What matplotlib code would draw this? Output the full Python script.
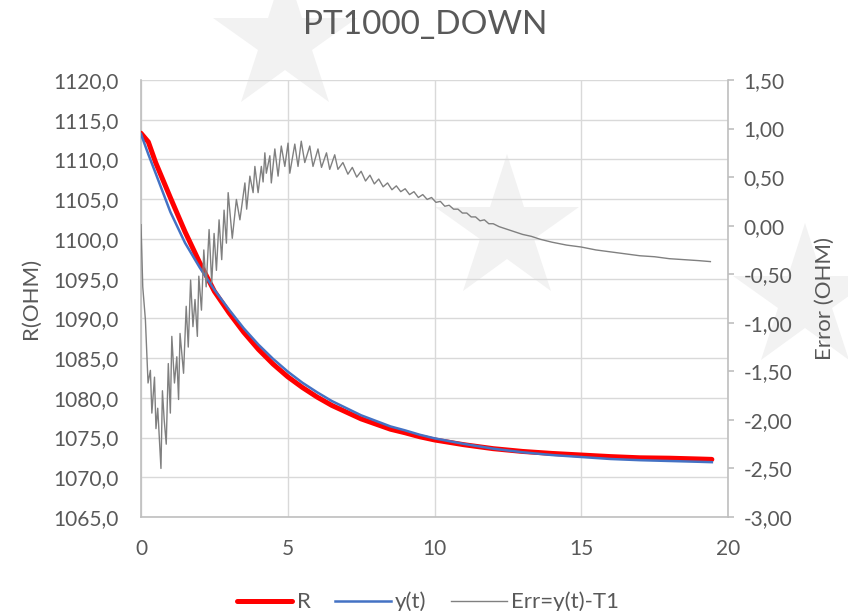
import matplotlib
matplotlib.use("Agg")
import matplotlib.pyplot as plt
from matplotlib.lines import Line2D
from matplotlib.ticker import FuncFormatter, MultipleLocator

plt.rcParams['font.family'] = ['Lato', 'DejaVu Sans']

# time axis for R and fitted y(t)
t = [0, 0.25, 0.5, 1, 1.5, 2, 2.5, 3, 3.5, 4, 4.5, 5, 5.5, 6, 6.5, 7, 7.5, 8,
     8.5, 9, 9.5, 10, 11, 12, 13, 14, 15, 16, 17, 18, 19, 19.45]

# measured resistance
r_meas = [1113.3, 1112.2, 1109.6, 1105.2, 1100.9, 1097.0, 1093.4, 1090.7,
          1088.25, 1086.1, 1084.25, 1082.65, 1081.3, 1080.1, 1079.05, 1078.2,
          1077.35, 1076.7, 1076.05, 1075.6, 1075.1, 1074.7, 1074.1, 1073.6,
          1073.25, 1073.0, 1072.8, 1072.6, 1072.45, 1072.4, 1072.3, 1072.25]

# fitted curve y(t)
y_fit = [1113.2, 1110.65, 1108.25, 1103.4, 1099.5, 1096.4, 1093.6, 1091.1,
         1088.75, 1086.7, 1084.9, 1083.3, 1081.9, 1080.7, 1079.6, 1078.7,
         1077.8, 1077.1, 1076.4, 1075.9, 1075.35, 1074.9, 1074.2, 1073.6,
         1073.15, 1072.8, 1072.55, 1072.3, 1072.15, 1072.05, 1071.95, 1071.9]

# error series (secondary axis)
t_err = [0.00, 0.06, 0.15, 0.24, 0.32, 0.37, 0.46, 0.51, 0.57, 0.68, 0.73,
         0.79, 0.86, 0.93, 1.00, 1.05, 1.14, 1.22, 1.28, 1.33, 1.45, 1.54,
         1.61, 1.69, 1.77, 1.84, 1.92, 1.97, 2.06, 2.14, 2.22, 2.32, 2.41,
         2.49, 2.57, 2.66, 2.75, 2.83, 2.91, 2.97, 3.11, 3.25, 3.37, 3.54,
         3.60, 3.71, 3.82, 3.88, 3.99, 4.10, 4.16, 4.22, 4.27, 4.39, 4.44,
         4.56, 4.67, 4.78, 4.90, 5.01, 5.07, 5.24, 5.35, 5.46, 5.58, 5.75,
         5.86, 6.03, 6.15, 6.32, 6.43, 6.60, 6.71, 6.88, 7.05, 7.2, 7.35,
         7.5, 7.65, 7.8, 7.95, 8.1, 8.25, 8.4, 8.55, 8.7, 8.85, 9.0, 9.15,
         9.3, 9.45, 9.6, 9.75, 9.9, 10.05, 10.2, 10.35, 10.5, 10.65, 10.8,
         10.95, 11.1, 11.25, 11.4, 11.55, 11.7, 11.85, 12.0, 12.2, 12.4,
         12.6, 12.8, 13.0, 13.3, 13.6, 14.0, 14.5, 15.0, 15.5, 16.0, 16.5,
         17.0, 17.5, 18.0, 18.5, 19.0, 19.4]
err = [0.01, -0.63, -0.97, -1.62, -1.49, -1.93, -1.56, -2.09, -1.88, -2.50,
       -1.70, -2.00, -2.25, -1.42, -1.93, -1.14, -1.62, -1.35, -1.79, -1.11,
       -1.52, -0.83, -1.25, -0.56, -1.04, -0.76, -1.14, -0.52, -0.87, -0.25,
       -0.63, -0.04, -0.59, -0.08, -0.46, 0.06, -0.35, 0.16, -0.18, 0.34,
       -0.13, 0.27, 0.06, 0.44, 0.17, 0.51, 0.34, 0.61, 0.34, 0.61, 0.45,
       0.75, 0.54, 0.72, 0.44, 0.79, 0.51, 0.82, 0.61, 0.85, 0.54, 0.84,
       0.61, 0.87, 0.65, 0.82, 0.61, 0.79, 0.60, 0.75, 0.58, 0.73, 0.58,
       0.65, 0.53, 0.60, 0.50, 0.56, 0.46, 0.52, 0.43, 0.48, 0.40, 0.44,
       0.37, 0.41, 0.35, 0.38, 0.32, 0.35, 0.29, 0.32, 0.27, 0.29, 0.24,
       0.25, 0.20, 0.21, 0.17, 0.17, 0.13, 0.13, 0.09, 0.09, 0.05, 0.06,
       0.02, 0.02, -0.01, -0.03, -0.05, -0.07, -0.09, -0.11, -0.14, -0.17,
       -0.20, -0.22, -0.25, -0.27, -0.29, -0.31, -0.32, -0.34, -0.35, -0.36,
       -0.37]

txt = "#595959"
axis_col = "#BFBFBF"
grid_col = "#D9D9D9"

fig = plt.figure(figsize=(8.48, 6.11), dpi=100)

# watermark stars behind the chart
for sx, sy in [(285, 41), (507, 230), (805, 299)]:
    fig.add_artist(Line2D([sx / 848], [1 - sy / 611], marker="*", markersize=109,
                          color="#F2F2F2", markeredgewidth=0, linestyle="none",
                          transform=fig.transFigure, zorder=-1))

ax = fig.add_axes([141 / 848, 94 / 611, 587 / 848, 437 / 611])
ax.set_facecolor("none")
ax2 = ax.twinx()
ax2.set_facecolor("none")

ax.plot(t, r_meas, color="#FF0000", lw=3.6, solid_capstyle="round", label="R", zorder=3)
ax.plot(t, y_fit, color="#4472C4", lw=1.8, label="y(t)", zorder=4)
ax2.plot(t_err, err, color="#808080", lw=1.0, label="Err=y(t)-T1")

ax.set_xlim(0, 20)
ax.set_ylim(1065, 1120)
ax2.set_ylim(-3, 1.5)

ax.xaxis.set_major_locator(MultipleLocator(5))
ax.yaxis.set_major_locator(MultipleLocator(5))
ax2.yaxis.set_major_locator(MultipleLocator(0.5))

ax.yaxis.set_major_formatter(FuncFormatter(lambda v, p: f"{v:.1f}".replace(".", ",")))
ax2.yaxis.set_major_formatter(FuncFormatter(lambda v, p: f"{round(v, 2) + 0.0:.2f}".replace(".", ",")))
ax.xaxis.set_major_formatter(FuncFormatter(lambda v, p: f"{v:.0f}"))

ax.grid(True, color=grid_col, lw=1.0)
ax.set_axisbelow(True)

for a in (ax, ax2):
    for s in a.spines.values():
        s.set_visible(False)
ax.spines["left"].set_visible(True)
ax.spines["bottom"].set_visible(True)
ax2.spines["right"].set_visible(True)
for s in (ax.spines["left"], ax.spines["bottom"], ax2.spines["right"]):
    s.set_color(axis_col)
    s.set_linewidth(1.2)

ax.tick_params(axis="y", length=0, pad=16, labelsize=15, labelcolor=txt)
ax.tick_params(axis="x", length=0, pad=16, labelsize=15, labelcolor=txt)
ax2.tick_params(axis="y", length=4, width=1.2, color=axis_col, pad=7,
                labelsize=15, labelcolor=txt)

ax.set_ylabel("R(OHM)", fontsize=16, color=txt)
ax.yaxis.set_label_coords(-0.17, 0.5)
ax2.set_ylabel("Error (OHM)", fontsize=16, color=txt)
ax2.yaxis.set_label_coords(1.148, 0.5)

fig.text(425 / 848, 1 - 25 / 611, "PT1000_DOWN", fontsize=24, color=txt,
         ha="center", va="center")

h1, l1 = ax.get_legend_handles_labels()
h2, l2 = ax2.get_legend_handles_labels()
leg = fig.legend(h1 + h2, l1 + l2, loc="center", bbox_to_anchor=(428 / 848, 1 - 602 / 611),
                 ncol=3, frameon=False, fontsize=16, handlelength=2.5,
                 handletextpad=0.2, columnspacing=1.1, labelcolor=txt)

fig.savefig("out.png", dpi=100)
